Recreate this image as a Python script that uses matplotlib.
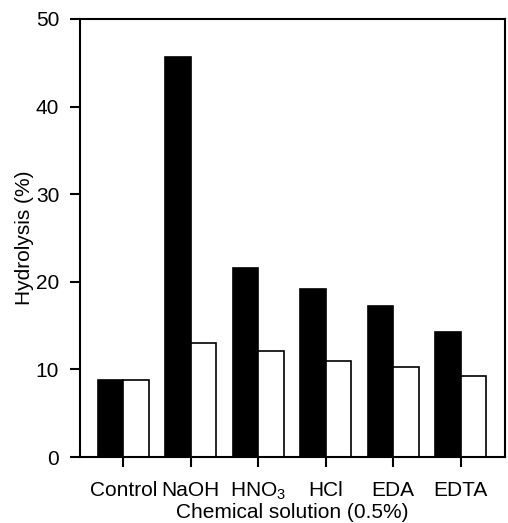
import matplotlib.pyplot as plt
import numpy as np

plt.rcParams['font.family'] = ['Liberation Sans', 'DejaVu Sans']
plt.rcParams['mathtext.fontset'] = 'custom'
plt.rcParams['mathtext.rm'] = 'Liberation Sans'
plt.rcParams['mathtext.it'] = 'Liberation Sans:italic'

categories = ['Control', 'NaOH', 'HNO$_3$', 'HCl', 'EDA', 'EDTA']
black_values = [8.8, 45.7, 21.6, 19.2, 17.2, 14.3]
white_values = [8.8, 13.0, 12.1, 11.0, 10.3, 9.2]

fig = plt.figure(figsize=(5.08, 5.23), dpi=100)
ax = fig.add_axes([0.1575, 0.126, 0.8365, 0.8377])

x = np.arange(len(categories))
width = 0.38
ax.bar(x - width / 2, black_values, width, color='black', edgecolor='black', linewidth=1.2)
ax.bar(x + width / 2, white_values, width, color='white', edgecolor='black', linewidth=1.2)

ax.set_xlim(-0.64, 5.655)
ax.set_ylim(0, 50)
ax.set_yticks([0, 10, 20, 30, 40, 50])
ax.set_xticks(x)
ax.set_xticklabels(categories)

for s in ax.spines.values():
    s.set_linewidth(1.5)

ax.tick_params(axis='both', direction='out', length=7, width=1.5, labelsize=15, pad=8)
ax.tick_params(axis='x', pad=10)
ax.set_ylabel('Hydrolysis (%)', fontsize=15, labelpad=1)
ax.set_xlabel('Chemical solution (0.5%)', fontsize=15, labelpad=1)

fig.savefig('out.png', dpi=100)
